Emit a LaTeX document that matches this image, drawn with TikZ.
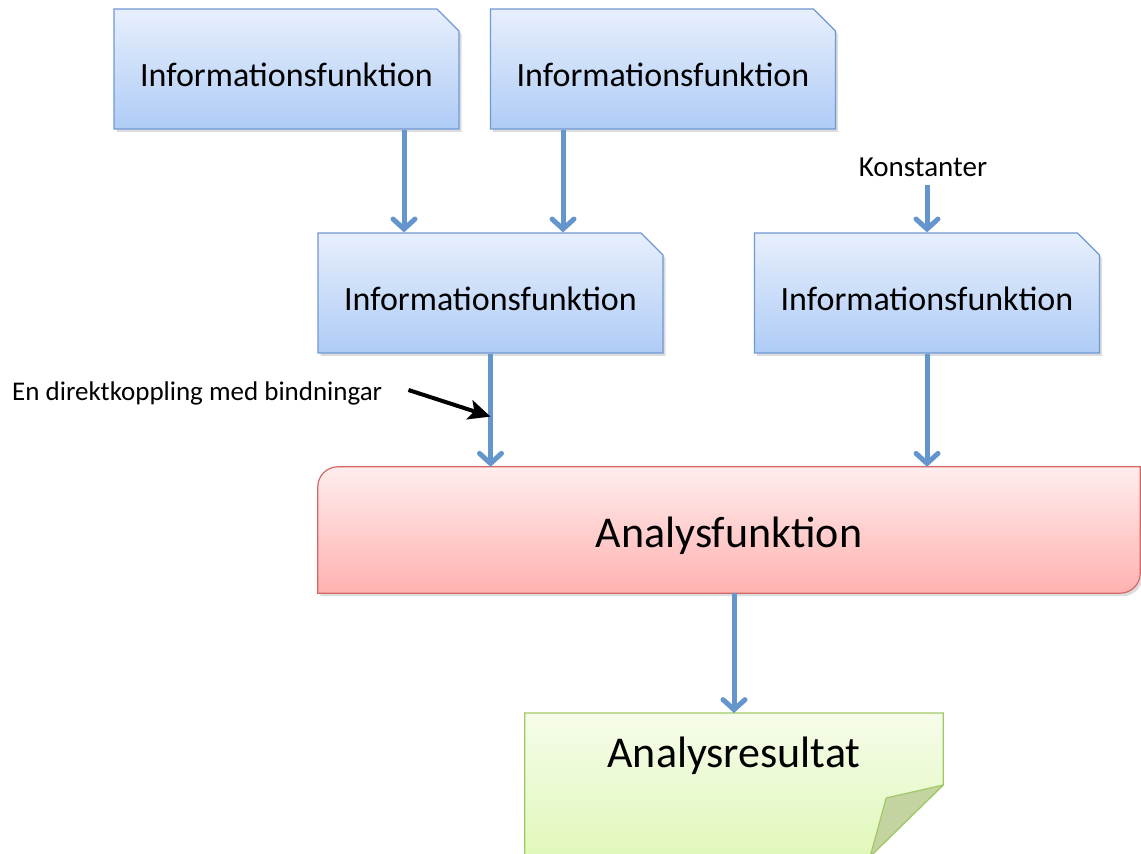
\documentclass[tikz,border=0pt]{standalone}
\usepackage{fontspec}
\setmainfont{Carlito}
\usetikzlibrary{shapes.misc,arrows.meta,shadows,calc}
\pgfdeclarelayer{background}
\pgfsetlayers{background,main}

\definecolor{infotop}{RGB}{231,239,252}
\definecolor{infobot}{RGB}{175,204,246}
\definecolor{infoline}{RGB}{112,152,212}
\definecolor{anatop}{RGB}{255,237,237}
\definecolor{anabot}{RGB}{255,178,176}
\definecolor{analine}{RGB}{212,104,100}
\definecolor{restop}{RGB}{246,252,234}
\definecolor{resbot}{RGB}{224,248,186}
\definecolor{resline}{RGB}{160,200,102}
\definecolor{resfold}{RGB}{196,212,160}
\definecolor{flowblue}{RGB}{100,150,205}

\begin{document}
\begin{tikzpicture}[x=1pt,y=1pt,
  boxshadow/.style={drop shadow={opacity=0.28,shadow xshift=2.5pt,shadow yshift=-3pt}},
  infobox/.style={chamfered rectangle, chamfered rectangle corners=north east,
    chamfered rectangle xsep=11pt, chamfered rectangle ysep=11pt,
    draw=infoline, line width=1.2pt, top color=infotop, bottom color=infobot,
    minimum width=345pt, minimum height=120pt, inner sep=0pt,
    font=\fontsize{34}{40}\selectfont, text height=36pt, text depth=0pt, boxshadow},
  anabox/.style={rectangle, minimum width=822pt, minimum height=126pt, inner sep=0pt,
    font=\fontsize{44}{52}\selectfont, text height=36pt, text depth=0pt},
  resbox/.style={rectangle, minimum width=418pt, minimum height=143pt, inner sep=0pt,
    font=\fontsize{44}{52}\selectfont, text height=0pt, text depth=35pt},
  smalltext/.style={font=\fontsize{27}{30}\selectfont, inner sep=0pt},
  flow/.style={draw=flowblue, line width=5pt,
    -{Straight Barb[length=10pt,width=22pt,line cap=round]}},
  callout/.style={draw=black, line width=4pt,
    -{Stealth[length=22pt,width=20pt,inset=5pt]}}
]
\useasboundingbox (0,0) rectangle (1141,854);

% information functions
\node[infobox] (A1) at (286.5,785) {Informationsfunktion};
\node[infobox] (A2) at (663,785) {Informationsfunktion};
\node[infobox] (B1) at (490.5,561) {Informationsfunktion};
\node[infobox] (B2) at (927,561) {Informationsfunktion};

% analysis function and result
\node[anabox] (ana) at (729,324) {Analysfunktion};
\node[resbox, anchor=north] (res) at (734,141) {Analysresultat};

% labels
\node[smalltext, font=\fontsize{29}{32}\selectfont] (konst) at (923,686.5) {Konstanter};
\node[smalltext, anchor=west] (lbl) at (12,461) {En direktkoppling med bindningar};

\begin{pgfonlayer}{background}
  % rounded diagonal corner rectangle
  \path[draw=analine, line width=1.2pt, top color=anatop, bottom color=anabot, boxshadow]
    (ana.south west) -- ($(ana.north west)+(0,-20)$)
    arc[start angle=180,end angle=90,radius=20pt]
    -- (ana.north east) -- ($(ana.south east)+(0,20)$)
    arc[start angle=0,end angle=-90,radius=20pt] -- cycle;
  % note with a folded corner
  \path[draw=resline, line width=1.2pt, top color=restop, bottom color=resbot]
    (res.north west) -- (res.north east) -- ($(res.north east)+(0,-72)$)
    -- ($(res.south east)+(-73,0)$) -- (res.south west) -- cycle;
  \path[draw=resline, line width=1.2pt, fill=resfold, line join=round]
    ($(res.north east)+(0,-72)$) -- ($(res.north east)+(-57,-85)$)
    -- ($(res.south east)+(-73,0)$) -- cycle;
\end{pgfonlayer}

% connectors
\coordinate (a1out) at ($(A1.south)+(117.5,0)$);
\coordinate (a2out) at ($(A2.south)+(-100,0)$);
\coordinate (kin) at ($(konst.south -| B2.north)+(0,-8)$);
\coordinate (tip) at ($(B1.south)+(0,-63)$);

\draw[flow] (a1out) -- (a1out |- B1.north);
\draw[flow] (a2out) -- (a2out |- B1.north);
\draw[flow] (kin) -- (B2.north);
\draw[flow] (B1.south) -- (B1.south |- ana.north);
\draw[flow] (B2.south) -- (B2.south |- ana.north);
\draw[flow] (res.north |- ana.south) -- (res.north);

\draw[callout] ($(lbl.east)+(26,3)$) -- (tip);
\end{tikzpicture}
\end{document}
